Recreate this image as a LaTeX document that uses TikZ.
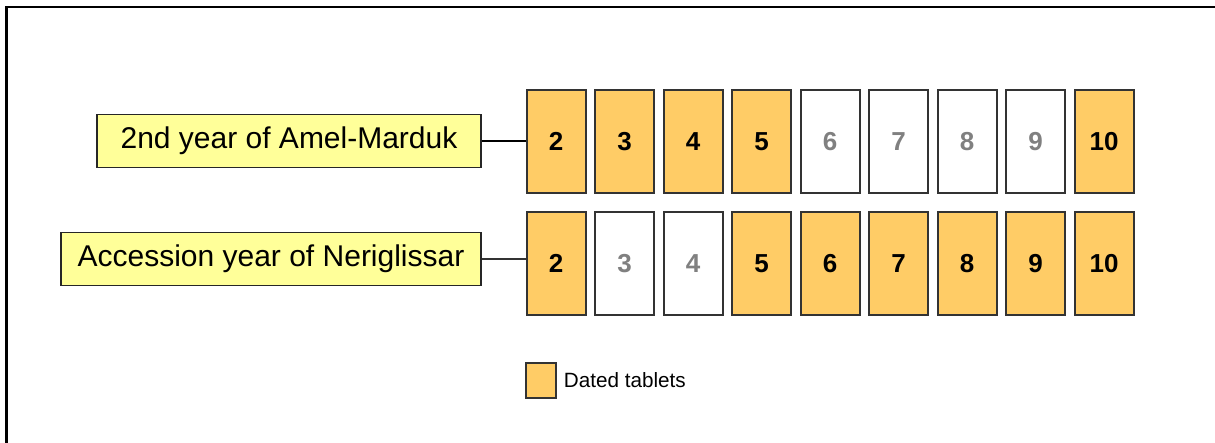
\documentclass[tikz,border=0pt]{standalone}
\usepackage{fontspec}
\setmainfont{Liberation Sans}
\usepackage{xcolor}
\usetikzlibrary{positioning}
\definecolor{tablet}{RGB}{255,204,102}
\definecolor{yearbg}{RGB}{255,255,153}
\definecolor{missing}{RGB}{128,128,128}

\tikzset{
  yearlabel/.style={draw=black!85, line width=1.2pt, fill=yearbg, minimum height=39.75pt, inner sep=0pt, font=\fontsize{22.5}{26}\selectfont},
  dated/.style={draw=black!80, line width=1.5pt, fill=tablet, minimum width=44.25pt, minimum height=77.25pt, inner sep=0pt, font=\fontsize{19.5}{22}\selectfont\bfseries},
  undated/.style={dated, fill=white, text=missing},
}

\begin{document}
\begin{tikzpicture}[x=0.75pt, y=-0.75pt]
  \useasboundingbox (0,0) rectangle (1215,443);
  % frame
  \draw[line width=2.2pt] (6.5,443) -- (6.5,7) -- (1215,7);

  % tablets, one row per reading
  \foreach \n/\s in {2/dated,3/dated,4/dated,5/dated,6/undated,7/undated,8/undated,9/undated,10/dated}
    \node[\s] (a\n) at ({556+(\n-2)*68.5},141.5) {\n};
  \foreach \n/\s in {2/dated,3/undated,4/undated,5/dated,6/dated,7/dated,8/dated,9/dated,10/dated}
    \node[\s] (n\n) at ({556+(\n-2)*68.5},263.5) {\n};

  \node[yearlabel, minimum width=288pt] (amel) at (289,141) {2nd year of Amel-Marduk};
  \node[yearlabel, minimum width=315pt] (neri) at (271,259) {Accession year of Neriglissar};
  \draw[missing, line width=1.8pt] (amel.east) -- (amel.east -| a2.west);
  \draw[black!80, line width=1.2pt] (neri.east) -- (neri.east -| n2.west);

  % legend
  \node[dated, minimum width=22.5pt, minimum height=26.25pt] (key) at (541,380.5) {};
  \node[right=5pt of key, inner sep=0pt, font=\fontsize{15.5}{18}\selectfont] (keytext) {Dated tablets};
\end{tikzpicture}
\end{document}
